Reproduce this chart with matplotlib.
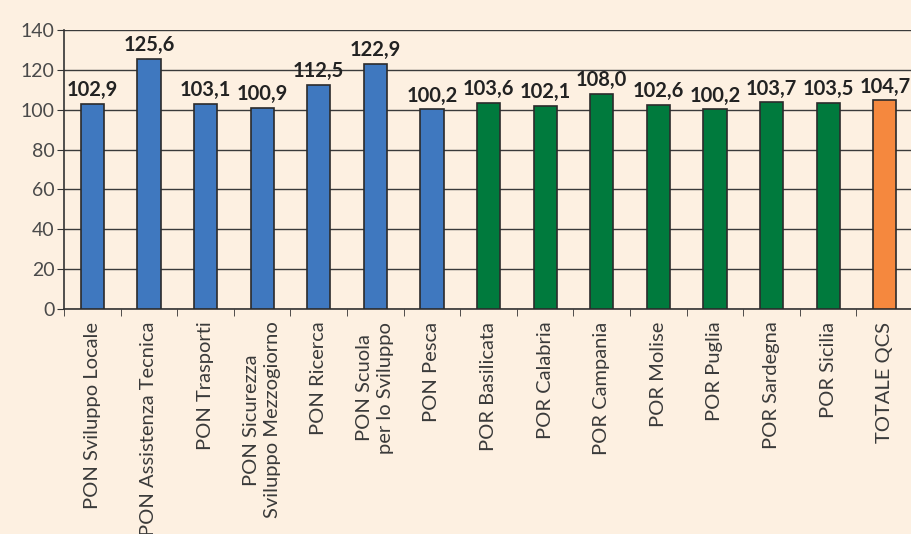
import numpy as np
import matplotlib.pyplot as plt

categories = ['PON Sviluppo Locale', 'PON Assistenza Tecnica', 'PON Trasporti',
              'PON Sicurezza\nSviluppo Mezzogiorno', 'PON Ricerca',
              'PON Scuola\nper lo Sviluppo', 'PON Pesca', 'POR Basilicata',
              'POR Calabria', 'POR Campania', 'POR Molise', 'POR Puglia',
              'POR Sardegna', 'POR Sicilia', 'TOTALE QCS']
values = [102.9, 125.6, 103.1, 100.9, 112.5, 122.9, 100.2, 103.6,
          102.1, 108.0, 102.6, 100.2, 103.7, 103.5, 104.7]
groups = ['PON'] * 7 + ['POR'] * 7 + ['TOT']
group_colors = {'PON': '#3F78BF', 'POR': '#007A3D', 'TOT': '#F5883E'}

bg = '#FDF0E1'
fig = plt.figure(figsize=(9.11, 5.34), dpi=100, facecolor=bg)
ax = fig.add_axes([0.0703, 0.421, 0.932, 0.523])
ax.set_facecolor(bg)

x = np.arange(len(categories))
colors = [group_colors[g] for g in groups]
ax.bar(x, values, width=0.41, color=colors, edgecolor='#2b2b2b', linewidth=1.2, zorder=3)

# etichette dei valori sopra le barre
for xi, v in zip(x, values):
    ax.text(xi, v + 1.8, '{:.1f}'.format(v).replace('.', ','), ha='center', va='bottom',
            fontsize=14.5, fontweight='bold', family='Lato', color='#222222', zorder=4)

ax.set_xlim(-0.5, len(categories) - 0.5)
ax.set_ylim(0, 140)
ax.set_yticks(range(0, 141, 20))
ax.yaxis.grid(True, color='#3a3a3a', linewidth=1.0, zorder=0)
ax.tick_params(axis='y', labelsize=14, labelcolor='#4a4a4a', color='#333333', length=5, pad=2)
for t in ax.get_yticklabels():
    t.set_family('Lato')

ax.set_xticks(x)
ax.set_xticklabels(categories, rotation=90, fontsize=14.5, color='#3a3a3a', family='Lato',
                   ha='center', va='top', multialignment='center', linespacing=1.3)
ax.tick_params(axis='x', which='major', length=0, pad=9)
ax.set_xticks(np.arange(-0.5, len(categories), 1), minor=True)
ax.tick_params(axis='x', which='minor', length=5, color='#333333')

for s in ['top', 'right']:
    ax.spines[s].set_visible(False)
ax.spines['left'].set_color('#333333')
ax.spines['bottom'].set_color('#333333')
ax.spines['left'].set_linewidth(1.2)
ax.spines['bottom'].set_linewidth(1.2)

fig.savefig('out.png', dpi=100, facecolor=bg)
